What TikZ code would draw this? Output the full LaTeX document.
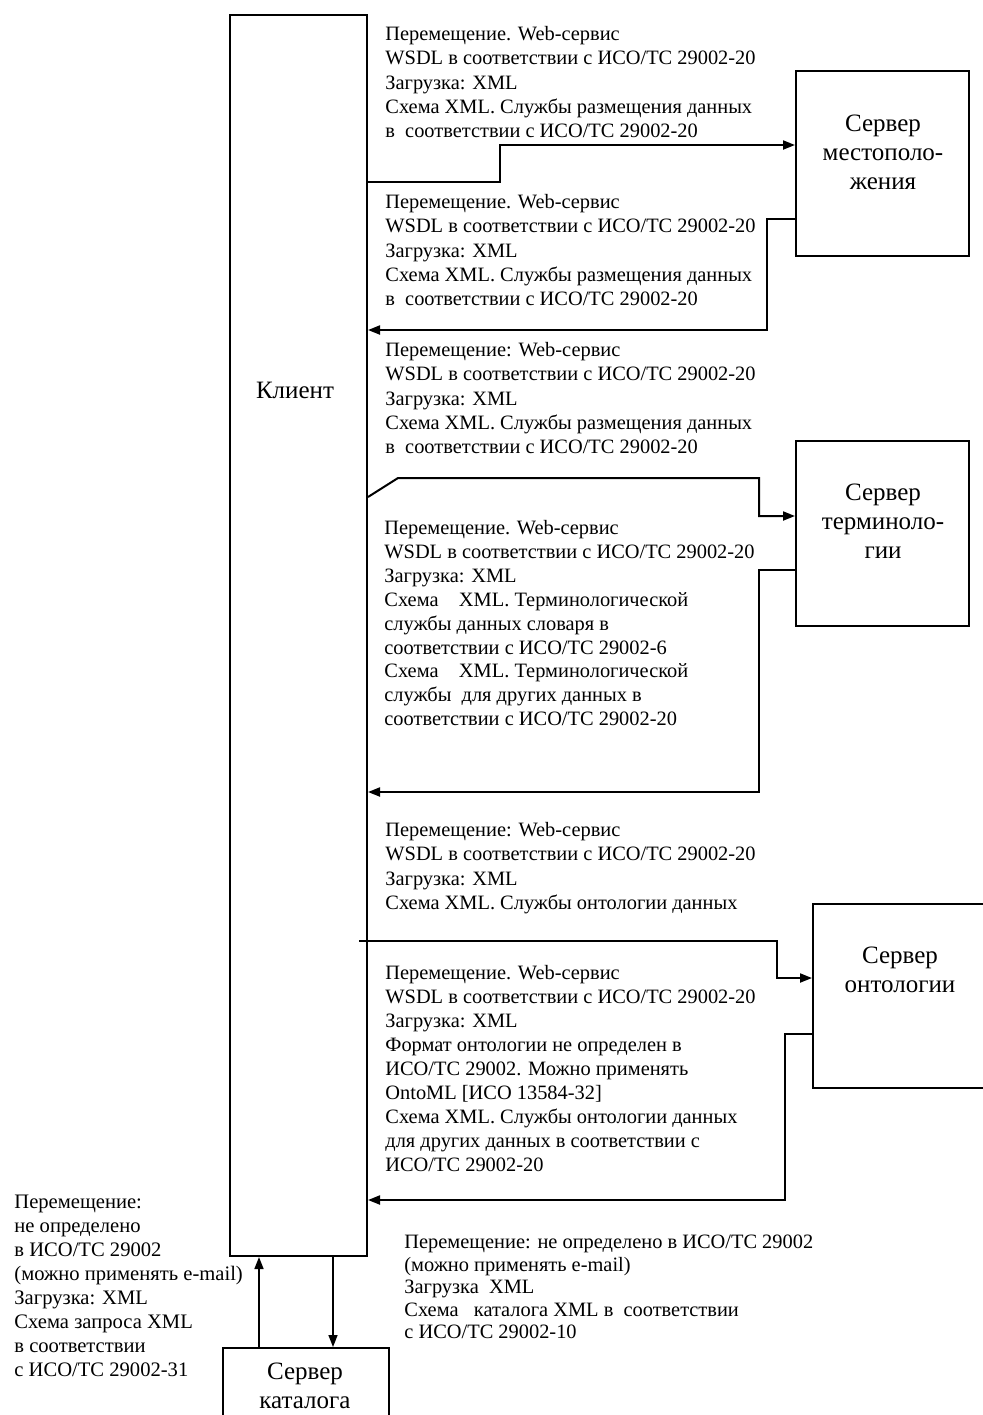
\documentclass[tikz,border=0pt]{standalone}
\usepackage{fontspec}
\setmainfont{Liberation Serif}
\usetikzlibrary{arrows.meta}
\begin{document}
\begin{tikzpicture}[x=0.5pt,y=-0.5pt,
  box/.style={draw,line width=1pt,inner sep=0pt},
  lbl/.style={font=\fontsize{12.5pt}{14.5pt}\selectfont,align=center,inner sep=0pt},
  txt/.style={font=\fontsize{10.2pt}{12.15pt}\selectfont,align=left,anchor=north west,inner sep=0pt},
  conn/.style={line width=1pt,-{Triangle[length=6pt,width=4.5pt]}},
  thin/.style={line width=0.8pt,-{Triangle[length=6pt,width=4.5pt]}}]
\useasboundingbox[fill=white] (0,0) rectangle (983,1415);
\clip (0,0) rectangle (983,1415);
% boxes
\node[box,minimum width=68.5pt,minimum height=620.5pt] (client) at (298.5,635.5) {};
\node[box,minimum width=86.5pt,minimum height=92.5pt] (loc) at (882.5,163.5) {};
\node[box,minimum width=86.5pt,minimum height=92.5pt] (term) at (882.5,533.5) {};
\node[box,minimum width=87.5pt,minimum height=92pt] (onto) at (900.5,996) {};
\node[box,minimum width=83pt,minimum height=51pt] (cat) at (306,1399) {};
% box labels
\node[lbl] (clientlbl) at (295,390) {Клиент};
\node[lbl] (loclbl) at (883,152) {Сервер\\местополо-\\жения};
\node[lbl] (termlbl) at (883,521) {Сервер\\терминоло-\\гии};
\node[lbl] (ontolbl) at (900,970) {Сервер\\онтологии};
\node[lbl] (catlbl) at (305,1386) {Сервер\\каталога};
% text blocks
\node[txt] (t1) at (385,26) {Перемещение. Web-сервис\\WSDL в соответствии с ИСО/ТС 29002-20\\Загрузка: XML\\Схема XML. Службы размещения данных\\в\ \ соответствии с ИСО/ТС 29002-20};
\node[txt] (t2) at (385,194) {Перемещение. Web-сервис\\WSDL в соответствии с ИСО/ТС 29002-20\\Загрузка: XML\\Схема XML. Службы размещения данных\\в\ \ соответствии с ИСО/ТС 29002-20};
\node[txt] (t3) at (385,342) {Перемещение: Web-сервис\\WSDL в соответствии с ИСО/ТС 29002-20\\Загрузка: XML\\Схема XML. Службы размещения данных\\в\ \ соответствии с ИСО/ТС 29002-20};
\node[txt,font=\fontsize{10.2pt}{11.95pt}\selectfont] (t4) at (384,520) {Перемещение. Web-сервис\\WSDL в соответствии с ИСО/ТС 29002-20\\Загрузка: XML\\Схема\ \ \ \ XML. Терминологической\\службы данных словаря в\\соответствии с ИСО/ТС 29002-6\\Схема\ \ \ \ XML. Терминологической\\службы\ \ для других данных в\\соответствии с ИСО/ТС 29002-20};
\node[txt] (t5) at (385,822) {Перемещение: Web-сервис\\WSDL в соответствии с ИСО/ТС 29002-20\\Загрузка: XML\\Схема XML. Службы онтологии данных};
\node[txt,font=\fontsize{10.2pt}{12pt}\selectfont] (t6) at (385,965) {Перемещение. Web-сервис\\WSDL в соответствии с ИСО/ТС 29002-20\\Загрузка: XML\\Формат онтологии не определен в\\ИСО/ТС 29002. Можно применять\\OntoML [ИСО 13584-32]\\Схема XML. Службы онтологии данных\\для других данных в соответствии с\\ИСО/ТС 29002-20};
\node[txt,font=\fontsize{10.3pt}{12pt}\selectfont] (t7) at (14,1195) {Перемещение:\\не определено\\в ИСО/ТС 29002\\(можно применять e-mail)\\Загрузка: XML\\Схема запроса XML\\в соответствии\\с ИСО/ТС 29002-31};
\node[txt,font=\fontsize{10.2pt}{11.25pt}\selectfont] (t8) at (404,1235) {Перемещение: не определено в ИСО/ТС 29002\\(можно применять e-mail)\\Загрузка\ \ XML\\Схема\ \ \ каталога XML в\ \ соответствии\\с ИСО/ТС 29002-10};
% connectors
\draw[conn] (client.east |- 0,182) -- (500,182) -- (500,145) -- (loc.west |- 0,145);
\draw[conn] (loc.west |- 0,219) -- (767,219) -- (767,330) -- (client.east |- 0,330);
\draw[conn] (client.east |- 0,497) -- (398,478) -- (759,478) -- (759,516) -- (term.west |- 0,516);
\draw[conn] (term.west |- 0,570) -- (759,570) -- (759,792) -- (client.east |- 0,792);
\draw[conn] ([xshift=-4.5pt]client.east |- 0,941) -- (777,941) -- (777,978) -- (onto.west |- 0,978);
\draw[conn] (onto.west |- 0,1034) -- (785,1034) -- (785,1200) -- (client.east |- 0,1200);
\draw[thin] (259,0 |- cat.north) -- (259,0 |- client.south);
\draw[thin] (333,0 |- client.south) -- (333,0 |- cat.north);
\end{tikzpicture}
\end{document}
